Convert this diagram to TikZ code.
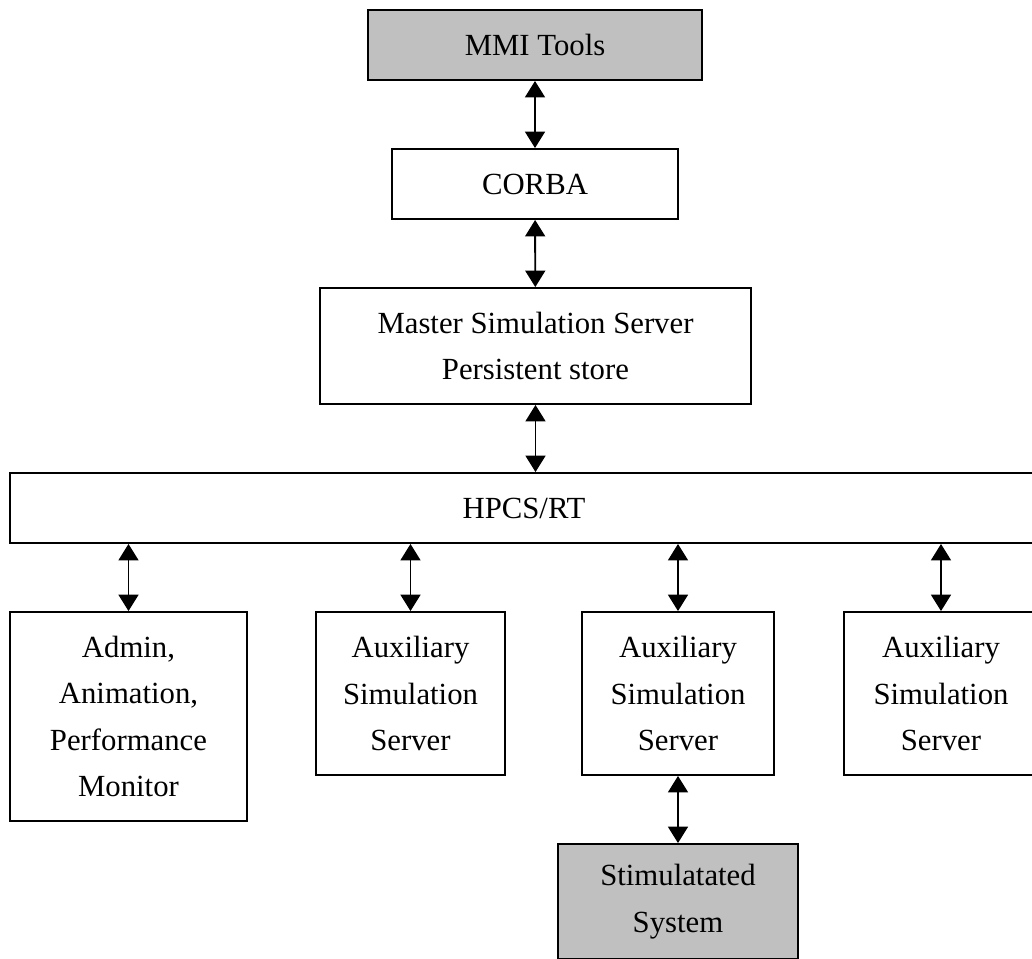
\documentclass[tikz,border=0pt]{standalone}
\usepackage{fontspec}
\setmainfont{Liberation Serif}
\usetikzlibrary{arrows.meta}
\definecolor{boxgray}{RGB}{192,192,192}

\begin{document}
\begin{tikzpicture}[%
      x=0.02cm, y=-0.02cm,
      block/.style={draw, line width=1.1pt, inner sep=0pt, align=center,
        font=\fontsize{17.5}{26.5}\selectfont},
      shaded/.style={block, fill=boxgray},
      link/.style={{Triangle[width=0.4cm,length=0.33cm]}-{Triangle[width=0.4cm,length=0.33cm]},
        line width=1.1pt},
      ]
      \useasboundingbox (0,0) rectangle (1032,958);
      \clip (0,0) rectangle (1032,958);

      \node [shaded, minimum width=6.68cm, minimum height=1.4cm] (mmi) at (535,45) {MMI Tools};
      \node [block, minimum width=5.72cm, minimum height=1.4cm] (corba) at (535,184) {CORBA};
      \node [block, minimum width=8.62cm, minimum height=2.32cm] (master) at (535.5,346)
            {Master Simulation Server\\Persistent store};
      \node [block, minimum width=20.56cm, minimum height=1.4cm] (hpcs) at (524,508) {HPCS/RT};

      \node [block, minimum width=4.74cm, minimum height=4.18cm] (admin) at (128.5,716.5)
            {Admin,\\Animation,\\Performance\\Monitor};
      \node [block, minimum width=3.78cm, minimum height=3.26cm] (aux1) at (410.5,693.5)
            {Auxiliary\\Simulation\\Server};
      \node [block, minimum width=3.84cm, minimum height=3.26cm] (aux2) at (678,693.5)
            {Auxiliary\\Simulation\\Server};
      \node [block, minimum width=3.88cm, minimum height=3.26cm] (aux3) at (941,693.5)
            {Auxiliary\\Simulation\\Server};
      \node [shaded, minimum width=4.8cm, minimum height=2.3cm] (stim) at (678,901.5)
            {Stimulatated\\System};

      \draw [link] (mmi) -- (corba);
      \draw [link] (corba) -- (master);
      \draw [link] (master) -- (master.south |- hpcs.north);
      \draw [link] (hpcs.south -| admin.north) -- (admin.north);
      \draw [link] (hpcs.south -| aux1.north) -- (aux1.north);
      \draw [link] (hpcs.south -| aux2.north) -- (aux2.north);
      \draw [link] (hpcs.south -| aux3.north) -- (aux3.north);
      \draw [link] (aux2) -- (stim);
      \end{tikzpicture}
\end{document}
